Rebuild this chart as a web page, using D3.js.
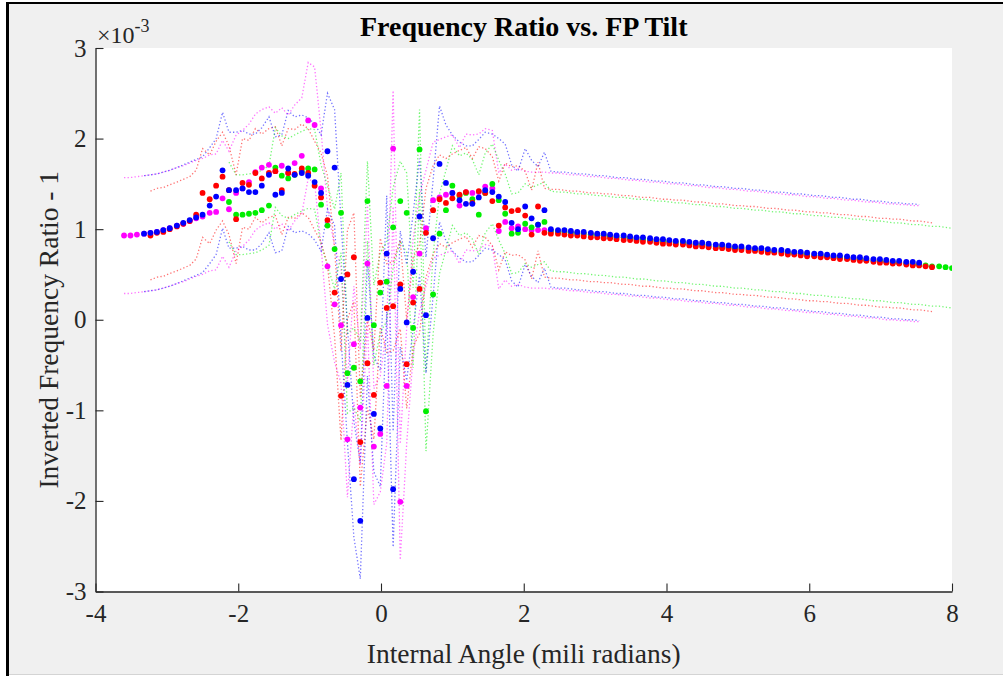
<!DOCTYPE html>
<html>
<head>
<meta charset="utf-8">
<script src="https://cdn.jsdelivr.net/npm/d3@7"></script>
<style>
  html, body { margin: 0; padding: 0; background: #fff; }
  svg { display: block; }
</style>
</head>
<body>
<svg id="chart" width="1003" height="676"></svg>
<script>
// Internal angle of each tilt sample (mili radians)
const angles = [
  -3.60,-3.51,-3.42,-3.32,-3.23,-3.14,-3.05,-2.96,-2.86,-2.77,
  -2.68,-2.59,-2.50,-2.40,-2.31,-2.22,-2.13,-2.03,-1.94,-1.85,
  -1.76,-1.67,-1.57,-1.48,-1.39,-1.30,-1.21,-1.11,-1.02,-0.93,
  -0.84,-0.75,-0.65,-0.56,-0.47,-0.38,-0.29,-0.19,-0.10,-0.01,
   0.08, 0.17, 0.27, 0.36, 0.45, 0.54, 0.63, 0.73, 0.82, 0.91,
   1.00, 1.10, 1.19, 1.28, 1.37, 1.46, 1.56, 1.65, 1.74, 1.83,
   1.92, 2.02, 2.11, 2.20, 2.29, 2.38, 2.48, 2.57, 2.66, 2.75,
   2.84, 2.94, 3.03, 3.12, 3.21, 3.30, 3.40, 3.49, 3.58, 3.67,
   3.77, 3.86, 3.95, 4.04, 4.13, 4.23, 4.32, 4.41, 4.50, 4.59,
   4.69, 4.78, 4.87, 4.96, 5.05, 5.15, 5.24, 5.33, 5.42, 5.51,
   5.61, 5.70, 5.79, 5.88, 5.97, 6.07, 6.16, 6.25, 6.34, 6.43,
   6.53, 6.62, 6.71, 6.80, 6.90, 6.99, 7.08, 7.17, 7.26, 7.36,
   7.45, 7.54, 7.63, 7.72, 7.82, 7.91, 8.00
];

// Inverted frequency ratio - 1 (units of 1e-3); null = no sample at that angle
const blueRatio = [
  null,null,null,0.95,0.96,0.97,0.99,1.01,1.04,1.07,
  1.10,1.13,1.16,1.26,1.36,1.65,1.43,1.43,1.45,1.41,
  1.41,1.48,1.60,1.38,1.40,1.67,1.60,1.62,1.59,1.52,
  1.40,1.86,1.68,0.45,-0.72,-1.76,-2.22,0.02,-1.04,-1.20,
  0.73,-1.87,0.34,-0.03,0.53,1.14,0.05,0.90,1.72,1.51,
  1.40,1.32,1.28,1.28,1.35,1.43,1.41,1.36,1.30,1.07,
  1.00,1.25,1.12,1.05,1.21,1.00,0.99,0.99,0.98,0.97,
  0.97,0.96,0.95,0.95,0.94,0.93,0.93,0.92,0.91,0.91,
  0.90,0.89,0.89,0.88,0.87,0.87,0.86,0.85,0.85,0.84,
  0.83,0.83,0.82,0.81,0.81,0.80,0.79,0.79,0.78,0.77,
  0.77,0.76,0.75,0.75,0.74,0.73,0.73,0.72,0.71,0.71,
  0.70,0.69,0.69,0.68,0.67,0.67,0.66,0.65,0.65,0.64,
  0.64,0.63,null,null,null,null,null
];

const redRatio = [
  null,null,null,null,0.93,0.96,0.97,1.00,1.03,1.06,
  1.09,1.16,1.40,1.33,1.48,1.58,1.43,1.11,1.51,1.49,
  1.62,1.56,1.62,1.64,1.43,1.62,1.61,1.67,1.62,1.48,
  1.35,1.10,0.30,-0.84,0.50,0.69,-1.35,-0.48,-0.83,0.41,
  0.13,0.15,0.39,-0.49,0.19,0.34,0.96,1.21,1.33,1.29,
  1.34,1.38,1.41,1.29,1.42,1.40,1.31,1.04,1.24,1.20,
  1.21,1.15,0.94,1.25,0.96,0.95,0.95,0.94,0.93,0.93,
  0.92,0.91,0.91,0.90,0.90,0.89,0.88,0.88,0.87,0.86,
  0.86,0.85,0.84,0.84,0.83,0.83,0.82,0.81,0.81,0.80,
  0.79,0.79,0.78,0.77,0.77,0.76,0.76,0.75,0.74,0.74,
  0.73,0.72,0.72,0.71,0.70,0.70,0.69,0.69,0.68,0.67,
  0.67,0.66,0.65,0.65,0.64,0.63,0.63,0.62,0.62,0.61,
  0.60,0.60,0.59,0.58,null,null,null
];

const greenRatio = [
  null,null,null,null,null,null,null,null,null,null,
  null,null,null,null,null,null,1.30,1.16,1.16,1.17,
  1.18,1.21,1.26,1.68,1.59,1.56,1.60,1.64,1.67,1.66,
  1.27,1.04,0.78,1.18,-0.59,-0.53,-0.68,1.31,-0.06,0.30,
  0.42,1.02,1.31,1.18,-0.09,1.88,-1.01,0.28,0.95,1.21,
  1.48,1.37,1.40,1.33,1.16,1.40,1.50,1.32,1.17,0.95,
  0.96,1.06,1.02,1.05,1.08,0.98,0.97,0.97,0.96,0.95,
  0.95,0.94,0.93,0.93,0.92,0.91,0.91,0.90,0.89,0.89,
  0.88,0.87,0.87,0.86,0.85,0.85,0.84,0.83,0.83,0.82,
  0.81,0.81,0.80,0.79,0.79,0.78,0.77,0.77,0.76,0.75,
  0.75,0.74,0.73,0.73,0.72,0.71,0.71,0.70,0.69,0.69,
  0.68,0.67,0.67,0.66,0.65,0.65,0.64,0.63,0.63,0.62,
  0.61,0.61,0.60,0.59,0.59,0.58,0.57
];

const magentaRatio = [
  0.93,0.93,0.94,0.95,0.96,0.97,0.99,1.01,1.04,1.06,
  1.09,1.12,1.14,1.18,1.19,1.34,1.22,1.40,1.45,1.52,
  1.63,1.68,1.71,1.64,1.70,1.62,1.73,1.81,2.20,2.15,
  1.45,0.59,0.17,-0.06,-1.32,-0.27,-0.97,0.62,-1.40,-1.26,
  -0.73,1.89,-2.01,-0.73,0.25,0.73,1.01,1.32,1.35,1.38,
  1.40,1.26,1.41,1.40,1.41,1.47,1.45,0.98,1.08,1.01,
  1.03,1.00,0.99,0.99,0.99,0.98,0.98,0.97,0.96,0.96,
  0.95,0.94,0.94,0.93,0.92,0.92,0.91,0.90,0.90,0.89,
  0.88,0.88,0.87,0.86,0.86,0.85,0.84,0.84,0.83,0.82,
  0.82,0.81,0.80,0.80,0.79,0.78,0.78,0.77,0.76,0.76,
  0.75,0.74,0.74,0.73,0.72,0.72,0.71,0.70,0.70,0.69,
  0.68,0.68,0.67,0.66,0.66,0.65,0.64,0.64,0.63,0.63,
  0.62,0.62,null,null,null,null,null
];

// Uncertainty half-width of each series (units of 1e-3), drawn as dotted bounds
const seriesNames  = ["magenta", "green", "red", "blue"];
const seriesColors = ["#ff00ff", "#00ee00", "#ff0000", "#0000ff"];
const bandHalfWidth = [0.64, 0.44, 0.49, 0.64];
const seriesValues = [magentaRatio, greenRatio, redRatio, blueRatio];

const xTicks = [-4, -2, 0, 2, 4, 6, 8];
const yTicks = [-3, -2, -1, 0, 1, 2, 3];

const titleText = "Frequency Ratio vs. FP Tilt";
const xLabelText = "Internal Angle (mili radians)";
const yLabelText = "Inverted Frequency Ratio - 1";

// ---------------------------------------------------------------
const W = 1003, H = 676;
const plot = { left: 95.5, right: 952, top: 48, bottom: 591.5 };
const serif = "'Liberation Serif', 'Times New Roman', Times, serif";
const ink = "#262626";

const svg = d3.select("#chart");

// window frame
svg.append("rect").attr("width", W).attr("height", H).attr("fill", "#fff");
svg.append("rect").attr("x", 9).attr("y", 4).attr("width", W - 9).attr("height", 670).attr("fill", "#f0f0f0");
svg.append("rect").attr("x", 6).attr("y", 2).attr("width", W - 6).attr("height", 2).attr("fill", "#000");
svg.append("rect").attr("x", 6).attr("y", 2).attr("width", 3).attr("height", H - 2).attr("fill", "#000");
svg.append("rect").attr("x", 9).attr("y", 674).attr("width", W - 9).attr("height", 1).attr("fill", "#d4d4d4");

const x = d3.scaleLinear().domain([-4, 8]).range([plot.left, plot.right]);
const y = d3.scaleLinear().domain([-3, 3]).range([plot.bottom, plot.top]);

// axes background
svg.append("rect")
  .attr("x", plot.left).attr("y", plot.top)
  .attr("width", plot.right - plot.left).attr("height", plot.bottom - plot.top)
  .attr("fill", "#fff");

svg.append("clipPath").attr("id", "plotClip")
  .append("rect")
  .attr("x", plot.left).attr("y", plot.top)
  .attr("width", plot.right - plot.left).attr("height", plot.bottom - plot.top);

const marks = svg.append("g").attr("clip-path", "url(#plotClip)");

const series = seriesNames.map((name, k) => ({
  name,
  color: seriesColors[k],
  half: bandHalfWidth[k],
  points: angles.map((a, i) => ({ a, v: seriesValues[k][i] })).filter(p => p.v !== null)
}));

// dotted upper / lower bounds
const boundLine = off => d3.line()
  .x(p => x(p.a))
  .y(p => y(p.v + off));

series.forEach(s => {
  [s.half, -s.half].forEach(off => {
    marks.append("path")
      .datum(s.points)
      .attr("class", "bound " + s.name)
      .attr("d", boundLine(off))
      .attr("fill", "none")
      .attr("stroke", s.color)
      .attr("stroke-width", 1.3)
      .attr("stroke-opacity", 0.55)
      .attr("stroke-dasharray", "1.3 2.2");
  });
});

// measured points
series.forEach(s => {
  marks.append("g").attr("class", "pts " + s.name)
    .selectAll("circle")
    .data(s.points)
    .join("circle")
    .attr("cx", p => x(p.a))
    .attr("cy", p => y(p.v))
    .attr("r", 2.9)
    .attr("fill", s.color);
});

// axes
const xAxis = d3.axisBottom(x)
  .tickValues(xTicks)
  .tickFormat(d => String(d))
  .tickSizeInner(-8).tickSizeOuter(0).tickPadding(13);

const yAxis = d3.axisLeft(y)
  .tickValues(yTicks)
  .tickFormat(d => String(d))
  .tickSizeInner(-8).tickSizeOuter(0).tickPadding(9);

const gx = svg.append("g").attr("transform", `translate(0,${plot.bottom})`).call(xAxis);
const gy = svg.append("g").attr("transform", `translate(${plot.left},0)`).call(yAxis);

[gx, gy].forEach(g => {
  g.selectAll("path.domain").attr("stroke", ink).attr("stroke-width", 1.3);
  g.selectAll(".tick line").attr("stroke", ink).attr("stroke-width", 1.1);
  g.selectAll(".tick text")
    .attr("fill", ink)
    .style("font-family", serif)
    .style("font-size", "25px");
});

// exponent label
const expo = svg.append("text")
  .attr("x", 97).attr("y", 43)
  .attr("fill", ink)
  .style("font-family", serif)
  .style("font-size", "24px");
expo.append("tspan").text("\u00d710");
expo.append("tspan").attr("dy", -11).style("font-size", "18px").text("-3");

// title
svg.append("text")
  .attr("x", (plot.left + plot.right) / 2).attr("y", 36)
  .attr("text-anchor", "middle")
  .attr("fill", "#000")
  .style("font-family", serif)
  .style("font-size", "28px")
  .style("font-weight", "bold")
  .text(titleText);

// axis labels
svg.append("text")
  .attr("x", (plot.left + plot.right) / 2).attr("y", 663)
  .attr("text-anchor", "middle")
  .attr("fill", ink)
  .style("font-family", serif)
  .style("font-size", "27.5px")
  .text(xLabelText);

svg.append("text")
  .attr("transform", `translate(58,${(plot.top + plot.bottom) / 2 + 10}) rotate(-90)`)
  .attr("text-anchor", "middle")
  .attr("fill", ink)
  .style("font-family", serif)
  .style("font-size", "27.5px")
  .text(yLabelText);
</script>
</body>
</html>
